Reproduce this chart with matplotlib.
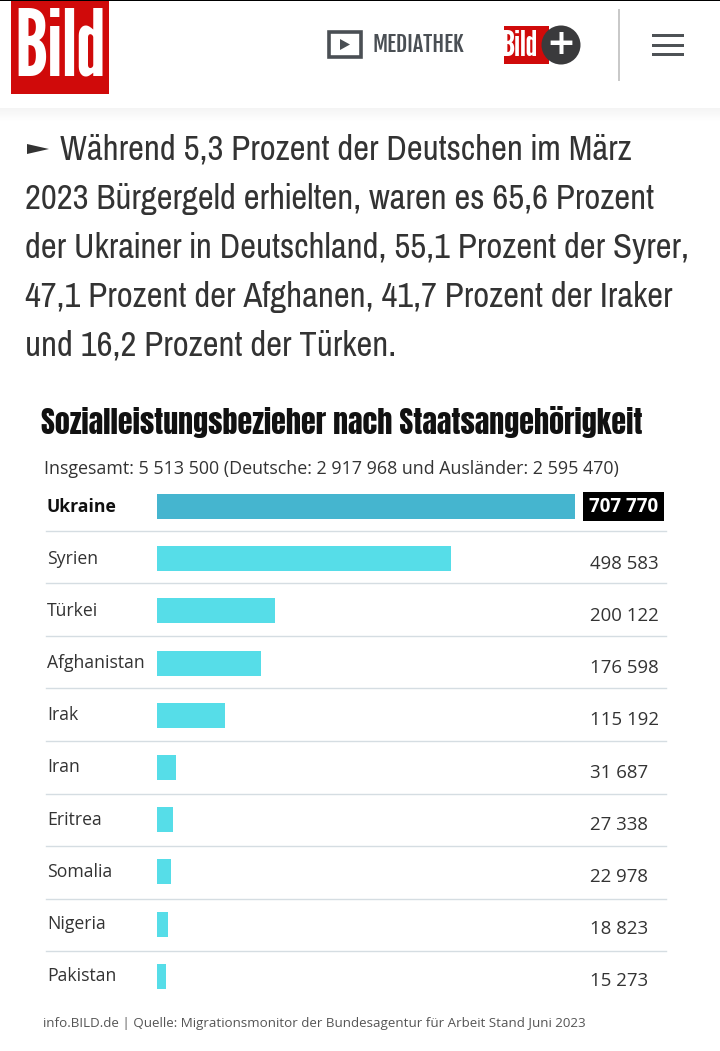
import matplotlib
matplotlib.use("Agg")
import matplotlib.pyplot as plt
from matplotlib.patches import Rectangle, Circle, Polygon

countries = ["Ukraine", "Syrien", "Türkei", "Afghanistan", "Irak", "Iran", "Eritrea", "Somalia", "Nigeria", "Pakistan"]
values = [707770, 498583, 200122, 176598, 115192, 31687, 27338, 22978, 18823, 15273]
value_labels = ["707 770", "498 583", "200 122", "176 598", "115 192", "31 687", "27 338", "22 978", "18 823", "15 273"]
body_lines = [
    "2023 Bürgergeld erhielten, waren es 65,6 Prozent",
    "der Ukrainer in Deutschland, 55,1 Prozent der Syrer,",
    "47,1 Prozent der Afghanen, 41,7 Prozent der Iraker",
    "und 16,2 Prozent der Türken.",
]

W, H = 720, 1051
LOGO = ["League Gothic", "Anton", "Liberation Sans"]
TITLE = ["Anton", "Fjalla One", "Liberation Sans"]
HEAD = ["Fjalla One", "Oswald", "Liberation Sans"]
NARROW = ["Pragati Narrow", "Roboto Condensed", "Liberation Sans"]
SANS = ["Open Sans", "DejaVu Sans"]

fig = plt.figure(figsize=(W / 100, H / 100), dpi=100, facecolor="white")

# page layer in pixel coordinates
page = fig.add_axes([0, 0, 1, 1])
page.set_xlim(0, W)
page.set_ylim(H, 0)
page.axis("off")

# header shadow
for i in range(14):
    page.add_patch(Rectangle((0, 107 + i), W, 1, color="black", alpha=0.045 * (1 - i / 14), lw=0))
page.add_patch(Rectangle((0, 0), W, 108, color="white", lw=0))
page.add_patch(Rectangle((0, 0), W, 1, color="black", lw=0))

# logo
page.add_patch(Rectangle((11, 1), 98, 93, color="#d00a0a", lw=0))
page.text(60, 50, "Bild", color="white", family=LOGO, fontsize=66, ha="center", va="center")

# mediathek
page.add_patch(Rectangle((329, 32), 32, 25, fc="white", ec="#4a4f54", lw=2.6))
page.add_patch(Polygon([[340, 39], [340, 50], [350, 44.5]], color="#4a4f54", lw=0))
page.text(373, 44, "MEDIATHEK", color="#4a4f54", family=HEAD, fontsize=15.8, va="center")

# bild plus
page.add_patch(Rectangle((504, 26), 45, 38, color="#d00a0a", lw=0))
page.text(520, 46, "Bild", color="white", family=LOGO, fontsize=26, ha="center", va="center")
page.add_patch(Circle((561, 45), 19.5, color="#3a3a3c", lw=0, zorder=3))
page.text(561, 44, "+", color="white", family="DejaVu Sans", weight="bold", fontsize=25, ha="center", va="center", zorder=4)

page.plot([619, 619], [10, 80], color="#c8c8c8", lw=1.4)
for y in [35, 45, 54]:
    page.add_patch(Rectangle((652, y - 1.5), 32, 3.4, color="#4e5256", lw=0))

# article text
page.add_patch(Polygon([[27, 144], [27, 154], [49, 149]], color="#333333", lw=0))
page.text(60, 150, "Während 5,3 Prozent der Deutschen im März", color="#333333", family=NARROW, fontsize=27.2, va="center")
for i, line in enumerate(body_lines):
    page.text(25, 199 + i * 49, line, color="#333333", family=NARROW, fontsize=27.2, va="center")

# graphic heading
page.text(41, 422, "Sozialleistungsbezieher nach Staatsangehörigkeit", color="#111111", family=TITLE,
          fontsize=21.6, va="center")
page.text(44, 469, "Insgesamt: 5 513 500 (Deutsche: 2 917 968 und Ausländer: 2 595 470)", color="#333333",
          family=SANS, fontsize=12.9, va="center")
page.text(43, 1024, "info.BILD.de | Quelle: Migrationsmonitor der Bundesagentur für Arbeit Stand Juni 2023",
          color="#555555", family=SANS, fontsize=9.6, va="center")

# bar chart: x 157-575 px, rows 52.2 px
top, step = 480.4, 52.2
ax = fig.add_axes([157 / W, 1 - (top + step * len(values)) / H, (575 - 157) / W, step * len(values) / H])
ax.patch.set_alpha(0)
ax.set_xlim(0, values[0])
ax.set_ylim(len(values) - 0.5, -0.5)
ax.axis("off")
colors = ["#45b5cf"] + ["#56dde8"] * (len(values) - 1)
ax.barh(range(len(values)), values, height=0.48, color=colors)

for i, c in enumerate(countries):
    y = 506.5 + i * 52.2
    page.text(47, y, c, color="#111111" if i == 0 else "#333333", family=SANS,
              weight="bold" if i == 0 else "normal", fontsize=12.7, va="center")
    if i < len(countries) - 1:
        page.plot([46, 666], [530.5 + i * 52.6] * 2, color="#d5dde2", lw=1)
    if i == 0:
        page.add_patch(Rectangle((583, 492), 81, 29, color="black", lw=0))
        page.text(623.5, 507, value_labels[i], color="white", family=SANS, weight="bold", fontsize=13.6,
                  ha="center", va="center")
    else:
        page.text(590.5, y + 5, value_labels[i], color="#333333", family=SANS, fontsize=13.4, va="center")

fig.savefig("out.png", dpi=100)
